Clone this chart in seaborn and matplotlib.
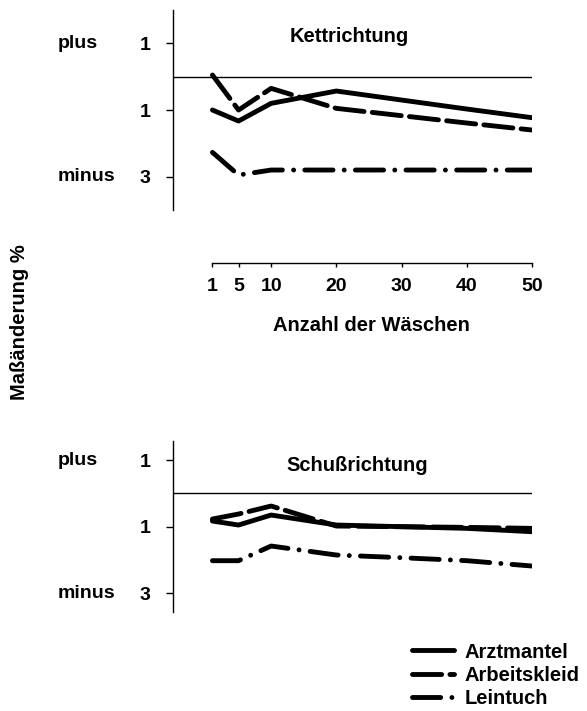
import matplotlib
matplotlib.use("Agg")
import matplotlib.pyplot as plt
import seaborn as sns
import pandas as pd

# Maßänderung in % nach n Wäschen (negativ = Schrumpfung)
waeschen = [1, 5, 10, 20, 30, 40, 50]
stoffe = ["Arztmantel", "Arbeitskleid", "Leintuch"]

kette_arztmantel = [-1.0, -1.33, -0.8, -0.43, -0.7, -0.97, -1.23]
kette_arbeitskleid = [0.05, -1.0, -0.35, -0.95, -1.17, -1.39, -1.6]
kette_leintuch = [-2.27, -2.95, -2.8, -2.8, -2.8, -2.8, -2.8]

schuss_arztmantel = [-0.83, -0.95, -0.65, -0.95, -1.0, -1.05, -1.15]
schuss_arbeitskleid = [-0.77, -0.62, -0.38, -0.98, -1.0, -1.02, -1.05]
schuss_leintuch = [-2.02, -2.02, -1.58, -1.85, -1.93, -2.02, -2.18]

ytick_vals = [1, -1, -3]
ytick_labels = ["1", "1", "3"]
xtick_labels = [str(w) for w in waeschen]


def to_frame(arzt, arbeit, lein):
    rows = []
    for name, vals in zip(stoffe, [arzt, arbeit, lein]):
        for w, v in zip(waeschen, vals):
            rows.append({"Wäschen": w, "Maß": v, "Stoff": name})
    return pd.DataFrame(rows)


kette = to_frame(kette_arztmantel, kette_arbeitskleid, kette_leintuch)
schuss = to_frame(schuss_arztmantel, schuss_arbeitskleid, schuss_leintuch)

sns.set_theme(style="ticks")
plt.rcParams["font.family"] = ["Liberation Sans", "DejaVu Sans"]
plt.rcParams["font.weight"] = "bold"
plt.rcParams["text.color"] = "black"
plt.rcParams["axes.labelcolor"] = "black"
plt.rcParams["axes.edgecolor"] = "black"
plt.rcParams["xtick.color"] = "black"
plt.rcParams["ytick.color"] = "black"

FS = 14
fig = plt.figure(figsize=(5.87, 7.11), dpi=100)
ax1 = fig.add_axes([0.2947, 0.7046, 0.6116, 0.2813])
ax2 = fig.add_axes([0.2947, 0.1392, 0.6116, 0.2405])

pal = {s: "black" for s in stoffe}
dashes = {"Arztmantel": "", "Arbeitskleid": (6, 1.7), "Leintuch": (5.8, 2.3, 0.01, 2.3)}

for ax, df, leg in [(ax1, kette, False), (ax2, schuss, True)]:
    sns.lineplot(data=df, x="Wäschen", y="Maß", hue="Stoff", style="Stoff",
                 palette=pal, dashes=dashes, linewidth=3.5,
                 dash_capstyle="round", solid_capstyle="round",
                 legend=leg, ax=ax)
    ax.axhline(0, color="black", lw=1.0, zorder=0)
    ax.set_xlim(-5.05, 50)
    ax.set_yticks(ytick_vals)
    ax.set_yticklabels(ytick_labels, fontsize=FS, fontweight="bold")
    ax.tick_params(axis="y", length=5, width=1, pad=11)
    ax.set_ylabel("")
    ax.spines["left"].set_linewidth(1.0)
    for side in ["top", "right"]:
        ax.spines[side].set_visible(False)
    ax.text(-0.32, 1, "plus", transform=ax.get_yaxis_transform(),
            ha="left", va="center", fontsize=FS, fontweight="bold")
    ax.text(-0.32, -3, "minus", transform=ax.get_yaxis_transform(),
            ha="left", va="center", fontsize=FS, fontweight="bold")

ax1.set_ylim(-4, 2)
ax2.set_ylim(-3.56, 1.57)

# detached x axis below the upper panel
ax1.spines["bottom"].set_position(("outward", 38))
ax1.spines["bottom"].set_bounds(1, 50)
ax1.spines["bottom"].set_linewidth(1.0)
ax1.set_xticks(waeschen)
ax1.set_xticklabels(xtick_labels, fontsize=FS, fontweight="bold")
ax1.tick_params(axis="x", length=3, width=1, pad=8)
ax1.set_xlabel("Anzahl der Wäschen", fontsize=FS + 0.5, fontweight="bold")
ax1.xaxis.set_label_coords(0.554, -0.53)

ax2.spines["bottom"].set_visible(False)
ax2.set_xticks([])
ax2.set_xlabel("")

ax1.text(0.49, 0.87, "Kettrichtung", transform=ax1.transAxes,
         ha="center", va="center", fontsize=FS + 0.5, fontweight="bold")
ax2.text(0.512, 0.854, "Schußrichtung", transform=ax2.transAxes,
         ha="center", va="center", fontsize=FS + 0.5, fontweight="bold")

fig.text(0.034, 0.547, "Maßänderung %", rotation=90, ha="center", va="center",
         fontsize=FS + 0.5, fontweight="bold")

sns.move_legend(ax2, "center left", bbox_to_anchor=(0.702, 0.05),
                bbox_transform=fig.transFigure, title=None, frameon=False,
                handlelength=2.1, handletextpad=0.5, labelspacing=0.22,
                borderpad=0, borderaxespad=0,
                prop={"size": FS + 0.5, "weight": "bold"})
for h in ax2.get_legend().legend_handles:
    h.set_linewidth(3.5)

fig.savefig("out.png", dpi=100)
